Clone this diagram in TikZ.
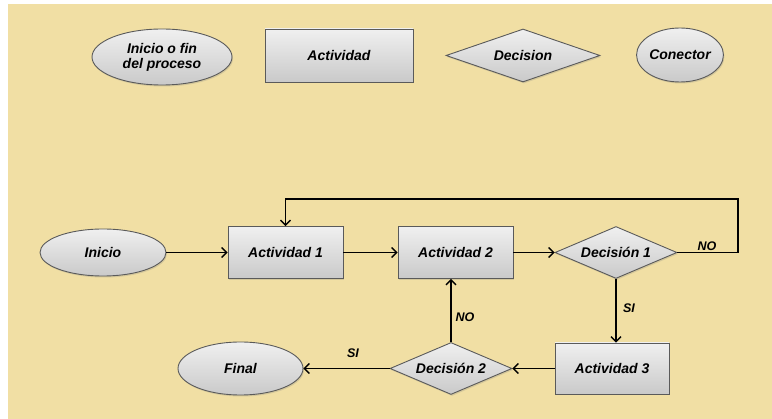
\documentclass[tikz,border=0pt]{standalone}
\usepackage{fontspec}
\setmainfont{Liberation Sans}
\usetikzlibrary{shapes.geometric,arrows.meta,shadows}
\definecolor{bgtan}{HTML}{F1DFA4}
\definecolor{edgegray}{HTML}{5A5A5A}
\tikzset{
  shapebase/.style={draw=edgegray, line width=0.9pt, top color=gray!12, bottom color=gray!42,
     font=\bfseries\itshape\fontsize{14}{15}\selectfont, text=black, inner sep=0pt, align=center,
     drop shadow={opacity=0.25, shadow xshift=1pt, shadow yshift=-1.5pt}},
  termbox/.style={shapebase, ellipse},
  actbox/.style={shapebase, rectangle},
  decbox/.style={shapebase, diamond, shape aspect=2.4},
  conbox/.style={shapebase, ellipse},
  flow/.style={line width=1.3pt, -{Straight Barb[length=5pt,width=10pt,line width=1.3pt]}},
  lbl/.style={font=\bfseries\itshape\fontsize{12.5}{14}\selectfont, text=black}
}
\begin{document}
\begin{tikzpicture}[x=1pt,y=-1pt]
\useasboundingbox (0,0) rectangle (772,419);
\fill[white] (0,0) rectangle (772,419);
\fill[bgtan] (8,4) rectangle (772,419);
% legend
\node[termbox, minimum width=140pt, minimum height=56pt] (lterm) at (162,57) {Inicio o fin\\del proceso};
\node[actbox, minimum width=148pt, minimum height=53pt] (lact) at (339,55.5) {Actividad};
\node[decbox, shape aspect=2.9, minimum width=154pt, minimum height=53pt] (ldec) at (523,55.5) {Decision};
\node[conbox, minimum width=74pt, minimum height=54pt] (lcon) at (680,55) {Conector};
% flow
\node[termbox, minimum width=126pt, minimum height=47pt] (inicio) at (103,252.5) {Inicio};
\node[actbox, minimum width=115pt, minimum height=52pt] (act1) at (285.5,252.5) {Actividad 1};
\node[actbox, minimum width=115pt, minimum height=52pt] (act2) at (455.5,252.5) {Actividad 2};
\node[decbox, minimum width=122pt, minimum height=52pt] (dec1) at (616,252.5) {Decisión 1};
\node[actbox, minimum width=114pt, minimum height=51pt] (act3) at (612,368.5) {Actividad 3};
\node[decbox, minimum width=122pt, minimum height=52pt] (dec2) at (451,368.5) {Decisión 2};
\node[termbox, minimum width=125pt, minimum height=53pt] (final) at (240.5,368.5) {Final};
\coordinate (loopc) at (738,199);
\draw[flow] (inicio.east) -- (act1.west);
\draw[flow] (act1.east) -- (act2.west);
\draw[flow] (act2.east) -- (dec1.west);
\draw[flow] (dec1.east) -- (dec1.east -| loopc) -- (loopc) -| (act1.north);
\draw[flow] (dec1.south) -- (dec1.south |- act3.north);
\draw[flow] (act3.west) -- (dec2.east);
\draw[flow] (dec2.north) -- (dec2.north |- act2.south);
\draw[flow] (dec2.west) -- (final.east);
\node[lbl] (nolbl1) at (707,246) {NO};
\node[lbl] (silbl1) at (629,308) {SI};
\node[lbl] (nolbl2) at (465,317) {NO};
\node[lbl] (silbl2) at (353,353) {SI};
\end{tikzpicture}
\end{document}
